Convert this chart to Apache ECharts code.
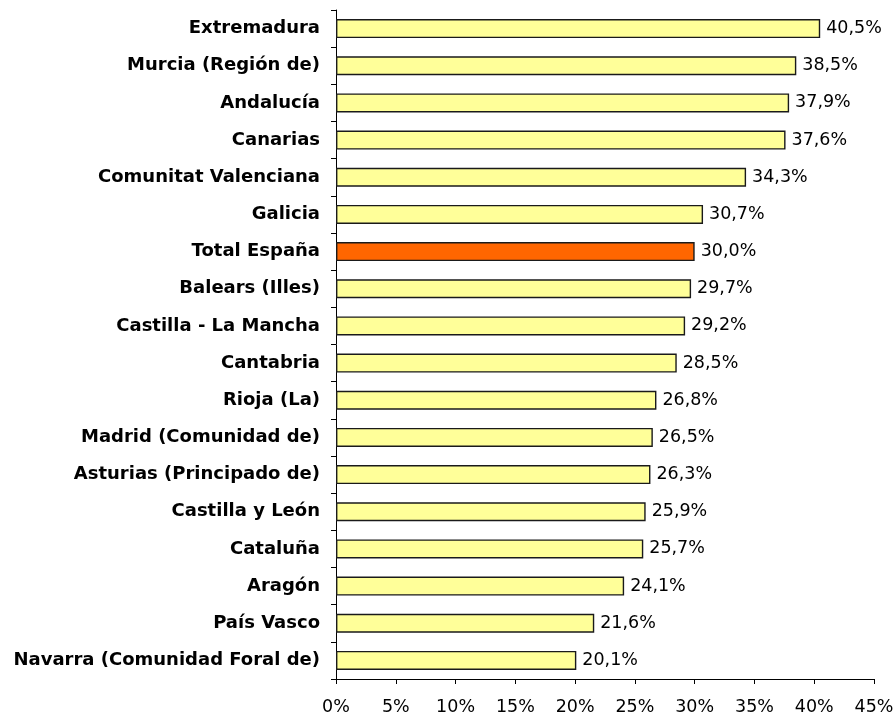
<!DOCTYPE html>
<html>
<head>
<meta charset="utf-8">
<script src="https://cdn.jsdelivr.net/npm/echarts@6/dist/echarts.min.js"></script>
<style>
html,body{margin:0;padding:0;background:#fff;}
#c{width:893px;height:716px;}
</style>
</head>
<body>
<div id="c"></div>
<script>
const categories = ["Extremadura","Murcia (Región de)","Andalucía","Canarias","Comunitat Valenciana","Galicia","Total España","Balears (Illes)","Castilla - La Mancha","Cantabria","Rioja (La)","Madrid (Comunidad de)","Asturias (Principado de)","Castilla y León","Cataluña","Aragón","País Vasco","Navarra (Comunidad Foral de)"];
const values = [40.5,38.5,37.9,37.6,34.3,30.7,30.0,29.7,29.2,28.5,26.8,26.5,26.3,25.9,25.7,24.1,21.6,20.1];
const highlight = "Total España";
const xTicks = [0,5,10,15,20,25,30,35,40,45];

const chart = echarts.init(document.getElementById('c'), null, {renderer:'canvas'});
chart.setOption({
  animation:false,
  backgroundColor:'#ffffff',
  grid:{left:336,right:19,top:10,bottom:37,containLabel:false,outerBoundsMode:'none'},
  xAxis:{
    type:'value',min:xTicks[0],max:xTicks[xTicks.length-1],interval:5,
    axisLine:{show:true,lineStyle:{color:'#000',width:1}},
    axisTick:{show:true,length:5,lineStyle:{color:'#000'}},
    splitLine:{show:false},
    axisLabel:{formatter:'{value}%',margin:19,color:'#000',fontFamily:'DejaVu Sans',fontSize:17.5,hideOverlap:false}
  },
  yAxis:{
    type:'category',data:categories,inverse:true,
    axisLine:{show:true,lineStyle:{color:'#000',width:1}},
    axisTick:{show:true,length:5,alignWithLabel:false,lineStyle:{color:'#000'}},
    axisLabel:{color:'#000',fontWeight:'bold',fontFamily:'DejaVu Sans',fontSize:18,margin:16,interval:0}
  },
  series:[{
    type:'bar',
    barWidth:19,
    data:categories.map((c,i)=>({value:values[i],itemStyle:{color:c===highlight?'#FF6600':'#FFFF99'}})),
    itemStyle:{borderColor:'#1a1a1a',borderWidth:1.4},
    label:{show:true,position:'right',distance:6,color:'#000',fontFamily:'DejaVu Sans',fontSize:17.5,
      formatter:p=>p.value.toFixed(1).replace('.',',')+'%'}
  }]
});
</script>
</body>
</html>
